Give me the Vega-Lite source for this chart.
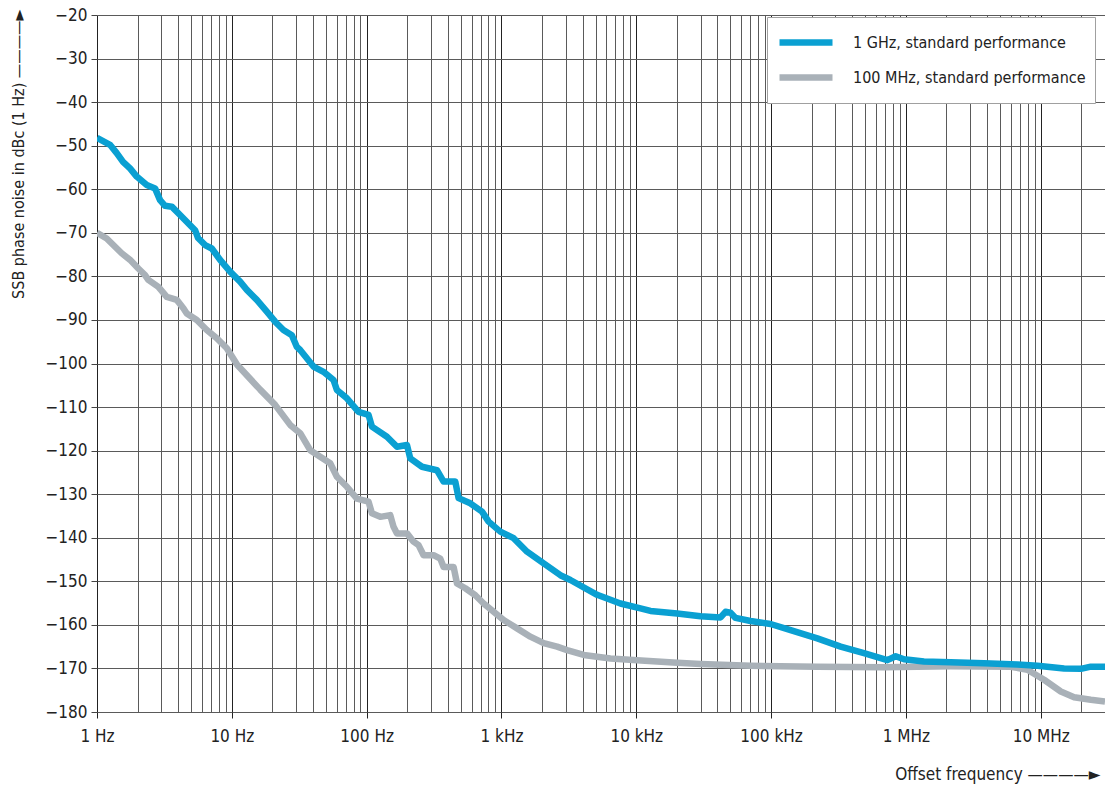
{
  "$schema": "https://vega.github.io/schema/vega-lite/v6.json",
  "width": 1008,
  "height": 697,
  "autosize": {"type": "none"},
  "padding": {"left": 97, "top": 15, "right": 0, "bottom": 73},
  "background": "white",
  "config": {
    "view": {"stroke": null},
    "font": "DejaVu Sans Condensed, Liberation Sans Narrow, Roboto",
    "axis": {"labelFont": "DejaVu Sans Condensed, Liberation Sans Narrow, Roboto", "titleFont": "DejaVu Sans Condensed, Liberation Sans Narrow, Roboto", "labelColor": "#222", "titleColor": "#222"},
    "legend": {"labelFont": "DejaVu Sans Condensed, Liberation Sans Narrow, Roboto"}
  },
  "data": {"values": [
    {"s": "100 MHz, standard performance", "f": 1, "v": -70.0},
    {"s": "100 MHz, standard performance", "f": 1.18, "v": -71.3},
    {"s": "100 MHz, standard performance", "f": 1.321, "v": -72.8},
    {"s": "100 MHz, standard performance", "f": 1.525, "v": -74.7},
    {"s": "100 MHz, standard performance", "f": 1.758, "v": -76.2},
    {"s": "100 MHz, standard performance", "f": 2.026, "v": -78.2},
    {"s": "100 MHz, standard performance", "f": 2.272, "v": -79.7},
    {"s": "100 MHz, standard performance", "f": 2.403, "v": -80.8},
    {"s": "100 MHz, standard performance", "f": 2.852, "v": -82.4},
    {"s": "100 MHz, standard performance", "f": 3.292, "v": -84.7},
    {"s": "100 MHz, standard performance", "f": 3.906, "v": -85.4},
    {"s": "100 MHz, standard performance", "f": 4.372, "v": -87.3},
    {"s": "100 MHz, standard performance", "f": 4.634, "v": -88.5},
    {"s": "100 MHz, standard performance", "f": 5.499, "v": -90.0},
    {"s": "100 MHz, standard performance", "f": 6.523, "v": -92.3},
    {"s": "100 MHz, standard performance", "f": 7.737, "v": -94.2},
    {"s": "100 MHz, standard performance", "f": 9.182, "v": -96.5},
    {"s": "100 MHz, standard performance", "f": 10.95, "v": -100.3},
    {"s": "100 MHz, standard performance", "f": 16.23, "v": -106.0},
    {"s": "100 MHz, standard performance", "f": 20.96, "v": -109.5},
    {"s": "100 MHz, standard performance", "f": 27.09, "v": -114.1},
    {"s": "100 MHz, standard performance", "f": 32.15, "v": -116.0},
    {"s": "100 MHz, standard performance", "f": 38.14, "v": -119.9},
    {"s": "100 MHz, standard performance", "f": 45.23, "v": -121.4},
    {"s": "100 MHz, standard performance", "f": 53.68, "v": -122.9},
    {"s": "100 MHz, standard performance", "f": 60.19, "v": -126.0},
    {"s": "100 MHz, standard performance", "f": 71.41, "v": -128.3},
    {"s": "100 MHz, standard performance", "f": 84.72, "v": -131.0},
    {"s": "100 MHz, standard performance", "f": 103.3, "v": -131.7},
    {"s": "100 MHz, standard performance", "f": 109.5, "v": -134.4},
    {"s": "100 MHz, standard performance", "f": 126.2, "v": -135.2},
    {"s": "100 MHz, standard performance", "f": 149.7, "v": -134.8},
    {"s": "100 MHz, standard performance", "f": 158.4, "v": -137.5},
    {"s": "100 MHz, standard performance", "f": 167.9, "v": -139.0},
    {"s": "100 MHz, standard performance", "f": 199.2, "v": -139.0},
    {"s": "100 MHz, standard performance", "f": 222.9, "v": -140.9},
    {"s": "100 MHz, standard performance", "f": 242.8, "v": -141.7},
    {"s": "100 MHz, standard performance", "f": 264.5, "v": -144.0},
    {"s": "100 MHz, standard performance", "f": 313.8, "v": -144.0},
    {"s": "100 MHz, standard performance", "f": 351.9, "v": -144.8},
    {"s": "100 MHz, standard performance", "f": 372.3, "v": -146.7},
    {"s": "100 MHz, standard performance", "f": 441.7, "v": -146.7},
    {"s": "100 MHz, standard performance", "f": 468.2, "v": -150.5},
    {"s": "100 MHz, standard performance", "f": 539.5, "v": -151.6},
    {"s": "100 MHz, standard performance", "f": 640.2, "v": -153.2},
    {"s": "100 MHz, standard performance", "f": 737.9, "v": -155.1},
    {"s": "100 MHz, standard performance", "f": 875.4, "v": -157.0},
    {"s": "100 MHz, standard performance", "f": 1038, "v": -158.9},
    {"s": "100 MHz, standard performance", "f": 1306, "v": -160.8},
    {"s": "100 MHz, standard performance", "f": 1639, "v": -162.7},
    {"s": "100 MHz, standard performance", "f": 2057, "v": -164.2},
    {"s": "100 MHz, standard performance", "f": 2587, "v": -165.0},
    {"s": "100 MHz, standard performance", "f": 3069, "v": -165.8},
    {"s": "100 MHz, standard performance", "f": 4076, "v": -166.9},
    {"s": "100 MHz, standard performance", "f": 6436, "v": -167.7},
    {"s": "100 MHz, standard performance", "f": 10150, "v": -168.1},
    {"s": "100 MHz, standard performance", "f": 20120, "v": -168.7},
    {"s": "100 MHz, standard performance", "f": 29970, "v": -169.0},
    {"s": "100 MHz, standard performance", "f": 70440, "v": -169.4},
    {"s": "100 MHz, standard performance", "f": 220300, "v": -169.6},
    {"s": "100 MHz, standard performance", "f": 687800, "v": -169.7},
    {"s": "100 MHz, standard performance", "f": 2151000, "v": -169.5},
    {"s": "100 MHz, standard performance", "f": 5998000, "v": -169.6},
    {"s": "100 MHz, standard performance", "f": 7980000, "v": -170.3},
    {"s": "100 MHz, standard performance", "f": 10600000, "v": -172.6},
    {"s": "100 MHz, standard performance", "f": 14100000, "v": -175.3},
    {"s": "100 MHz, standard performance", "f": 17700000, "v": -176.6},
    {"s": "100 MHz, standard performance", "f": 23550000, "v": -177.2},
    {"s": "100 MHz, standard performance", "f": 30000000, "v": -177.6},
    {"s": "1 GHz, standard performance", "f": 1, "v": -48.2},
    {"s": "1 GHz, standard performance", "f": 1.249, "v": -49.8},
    {"s": "1 GHz, standard performance", "f": 1.401, "v": -51.7},
    {"s": "1 GHz, standard performance", "f": 1.56, "v": -53.7},
    {"s": "1 GHz, standard performance", "f": 1.758, "v": -55.2},
    {"s": "1 GHz, standard performance", "f": 1.971, "v": -57.1},
    {"s": "1 GHz, standard performance", "f": 2.339, "v": -59.0},
    {"s": "1 GHz, standard performance", "f": 2.696, "v": -59.8},
    {"s": "1 GHz, standard performance", "f": 2.936, "v": -62.5},
    {"s": "1 GHz, standard performance", "f": 3.198, "v": -63.8},
    {"s": "1 GHz, standard performance", "f": 3.586, "v": -64.0},
    {"s": "1 GHz, standard performance", "f": 4.133, "v": -65.9},
    {"s": "1 GHz, standard performance", "f": 5.34, "v": -69.4},
    {"s": "1 GHz, standard performance", "f": 5.62, "v": -71.2},
    {"s": "1 GHz, standard performance", "f": 6.337, "v": -72.8},
    {"s": "1 GHz, standard performance", "f": 7.105, "v": -73.6},
    {"s": "1 GHz, standard performance", "f": 8.188, "v": -76.2},
    {"s": "1 GHz, standard performance", "f": 9.714, "v": -78.9},
    {"s": "1 GHz, standard performance", "f": 11.52, "v": -81.2},
    {"s": "1 GHz, standard performance", "f": 12.93, "v": -83.1},
    {"s": "1 GHz, standard performance", "f": 15.33, "v": -85.4},
    {"s": "1 GHz, standard performance", "f": 18.19, "v": -88.1},
    {"s": "1 GHz, standard performance", "f": 20.96, "v": -90.4},
    {"s": "1 GHz, standard performance", "f": 24.16, "v": -92.3},
    {"s": "1 GHz, standard performance", "f": 27.89, "v": -93.5},
    {"s": "1 GHz, standard performance", "f": 30.38, "v": -96.2},
    {"s": "1 GHz, standard performance", "f": 32.15, "v": -96.9},
    {"s": "1 GHz, standard performance", "f": 40.35, "v": -100.7},
    {"s": "1 GHz, standard performance", "f": 47.86, "v": -101.9},
    {"s": "1 GHz, standard performance", "f": 56.8, "v": -103.8},
    {"s": "1 GHz, standard performance", "f": 60.19, "v": -106.1},
    {"s": "1 GHz, standard performance", "f": 71.41, "v": -108.0},
    {"s": "1 GHz, standard performance", "f": 87.08, "v": -111.1},
    {"s": "1 GHz, standard performance", "f": 103.3, "v": -111.8},
    {"s": "1 GHz, standard performance", "f": 109.5, "v": -114.5},
    {"s": "1 GHz, standard performance", "f": 141.5, "v": -116.8},
    {"s": "1 GHz, standard performance", "f": 167.9, "v": -119.1},
    {"s": "1 GHz, standard performance", "f": 199.2, "v": -118.7},
    {"s": "1 GHz, standard performance", "f": 210.8, "v": -121.8},
    {"s": "1 GHz, standard performance", "f": 257.3, "v": -123.7},
    {"s": "1 GHz, standard performance", "f": 332.5, "v": -124.5},
    {"s": "1 GHz, standard performance", "f": 372.3, "v": -127.1},
    {"s": "1 GHz, standard performance", "f": 454.7, "v": -127.1},
    {"s": "1 GHz, standard performance", "f": 481.1, "v": -130.9},
    {"s": "1 GHz, standard performance", "f": 587.5, "v": -132.1},
    {"s": "1 GHz, standard performance", "f": 717.8, "v": -134.0},
    {"s": "1 GHz, standard performance", "f": 803.5, "v": -136.3},
    {"s": "1 GHz, standard performance", "f": 981.3, "v": -138.6},
    {"s": "1 GHz, standard performance", "f": 1232, "v": -140.1},
    {"s": "1 GHz, standard performance", "f": 1549, "v": -143.2},
    {"s": "1 GHz, standard performance", "f": 2057, "v": -145.9},
    {"s": "1 GHz, standard performance", "f": 2737, "v": -148.6},
    {"s": "1 GHz, standard performance", "f": 3248, "v": -149.7},
    {"s": "1 GHz, standard performance", "f": 5125, "v": -153.1},
    {"s": "1 GHz, standard performance", "f": 7633, "v": -155.1},
    {"s": "1 GHz, standard performance", "f": 10747, "v": -156.2},
    {"s": "1 GHz, standard performance", "f": 12747, "v": -156.8},
    {"s": "1 GHz, standard performance", "f": 20118, "v": -157.4},
    {"s": "1 GHz, standard performance", "f": 29970, "v": -158.0},
    {"s": "1 GHz, standard performance", "f": 42189, "v": -158.3},
    {"s": "1 GHz, standard performance", "f": 45947, "v": -157.0},
    {"s": "1 GHz, standard performance", "f": 50048, "v": -157.2},
    {"s": "1 GHz, standard performance", "f": 54528, "v": -158.4},
    {"s": "1 GHz, standard performance", "f": 70439, "v": -159.1},
    {"s": "1 GHz, standard performance", "f": 99150, "v": -159.8},
    {"s": "1 GHz, standard performance", "f": 139600, "v": -161.2},
    {"s": "1 GHz, standard performance", "f": 220300, "v": -163.1},
    {"s": "1 GHz, standard performance", "f": 328100, "v": -165.0},
    {"s": "1 GHz, standard performance", "f": 488700, "v": -166.5},
    {"s": "1 GHz, standard performance", "f": 729000, "v": -168.1},
    {"s": "1 GHz, standard performance", "f": 840300, "v": -167.2},
    {"s": "1 GHz, standard performance", "f": 968300, "v": -167.9},
    {"s": "1 GHz, standard performance", "f": 1362000, "v": -168.4},
    {"s": "1 GHz, standard performance", "f": 2151000, "v": -168.6},
    {"s": "1 GHz, standard performance", "f": 3800000, "v": -168.8},
    {"s": "1 GHz, standard performance", "f": 6726000, "v": -169.1},
    {"s": "1 GHz, standard performance", "f": 9470000, "v": -169.4},
    {"s": "1 GHz, standard performance", "f": 14920000, "v": -170.0},
    {"s": "1 GHz, standard performance", "f": 19850000, "v": -170.1},
    {"s": "1 GHz, standard performance", "f": 23550000, "v": -169.6},
    {"s": "1 GHz, standard performance", "f": 30000000, "v": -169.6}
  ]},
  "mark": {"type": "line", "strokeWidth": 6.5, "strokeJoin": "round", "strokeCap": "butt", "clip": true},
  "encoding": {
    "x": {
      "field": "f", "type": "quantitative",
      "scale": {"type": "log", "domain": [1, 30000000], "nice": false},
      "axis": {
        "values": [1,2,3,4,5,6,7,8,9,10,20,30,40,50,60,70,80,90,100,200,300,400,500,600,700,800,900,1000,2000,3000,4000,5000,6000,7000,8000,9000,10000,20000,30000,40000,50000,60000,70000,80000,90000,100000,200000,300000,400000,500000,600000,700000,800000,900000,1000000,2000000,3000000,4000000,5000000,6000000,7000000,8000000,9000000,10000000,20000000],
        "grid": true,
        "gridColor": {"condition": {"test": "abs(log(datum.value)/LN10 - round(log(datum.value)/LN10)) < 0.000001", "value": "#222222"}, "value": "#5a5a5a"},
        "gridWidth": 1,
        "domain": false,
        "ticks": true,
        "tickSize": 6,
        "tickColor": "#222",
        "tickOpacity": {"condition": {"test": "abs(log(datum.value)/LN10 - round(log(datum.value)/LN10)) < 0.000001", "value": 1}, "value": 0},
        "labelExpr": "abs(log(datum.value)/LN10 - round(log(datum.value)/LN10)) < 0.000001 ? (datum.value >= 1000000 ? format(datum.value/1000000, 'd') + ' MHz' : datum.value >= 1000 ? format(datum.value/1000, 'd') + ' kHz' : format(datum.value, 'd') + ' Hz') : ''",
        "labelFontSize": 17,
        "labelPadding": 10,
        "labelFlush": false,
        "labelOverlap": false,
        "title": "Offset frequency  ————►",
        "titleFontSize": 17,
        "titleFontWeight": "normal",
        "titleAnchor": "end",
        "titleAlign": "right",
        "titleBaseline": "middle",
        "titleX": 1003,
        "titleY": 62
      }
    },
    "y": {
      "field": "v", "type": "quantitative",
      "scale": {"domain": [-180, -20], "nice": false, "zero": false},
      "axis": {
        "values": [-180,-170,-160,-150,-140,-130,-120,-110,-100,-90,-80,-70,-60,-50,-40,-30,-20],
        "grid": true,
        "gridColor": "#5a5a5a",
        "gridWidth": 1,
        "domain": false,
        "tickSize": 6,
        "tickColor": "#444",
        "labelExpr": "'\u2212' + abs(datum.value)",
        "labelFontSize": 17,
        "labelPadding": 4,
        "labelFlush": false,
        "labelOverlap": false,
        "title": "SSB phase noise in dBc (1 Hz)   ————►",
        "titleFontSize": 16,
        "titleFontWeight": "normal",
        "titleAngle": -90,
        "titleAnchor": "end",
        "titleAlign": "right",
        "titleBaseline": "middle",
        "titleX": -79,
        "titleY": -6
      }
    },
    "color": {
      "field": "s", "type": "nominal",
      "scale": {"domain": ["1 GHz, standard performance", "100 MHz, standard performance"], "range": ["#0aa0d2", "#a9b1b8"]},
      "legend": {
        "title": null,
        "orient": "none",
        "legendX": 670,
        "legendY": 2,
        "fillColor": "white",
        "strokeColor": "#a0a0a0",
        "padding": 9,
        "symbolType": "stroke",
        "symbolSize": 2809,
        "symbolStrokeWidth": 6.5,
        "clipHeight": 33,
        "rowPadding": 2,
        "labelFontSize": 16,
        "labelColor": "#222",
        "labelOffset": 17,
        "labelLimit": 400
      }
    },
    "order": {"field": "f", "type": "quantitative"}
  }
}
